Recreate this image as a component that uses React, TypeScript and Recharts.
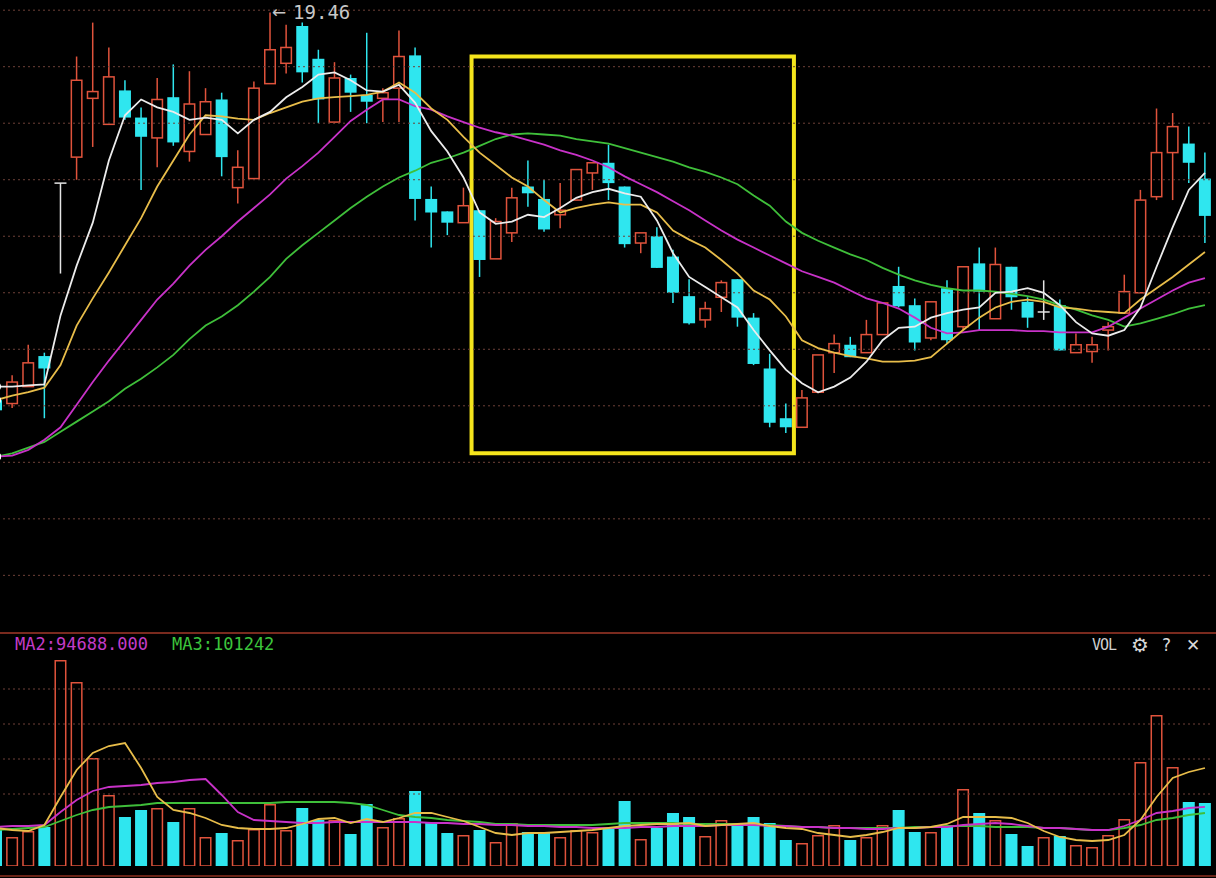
import React from 'react';
import { ComposedChart, Bar, Line, XAxis, YAxis, ReferenceLine, ReferenceArea, ReferenceDot } from 'recharts';

// ---------- price data (candles) ----------
const opens = [16.03, 16.00, 16.15, 16.42, 17.95, 18.18, 18.70, 18.47, 18.77, 18.53,
  18.35, 18.71, 18.23, 18.38, 18.69, 17.91, 17.99, 18.83, 19.01, 19.34,
  19.05, 18.49, 18.88, 18.73, 18.70, 18.79, 19.08, 17.81, 17.70, 17.60,
  17.71, 17.28, 17.51, 17.92, 17.81, 17.67, 17.80, 18.04, 18.13, 17.92,
  17.42, 17.48, 17.30, 16.95, 16.74, 16.94, 17.10, 16.76, 16.31, 15.87,
  15.79, 16.10, 16.45, 16.52, 16.45, 16.61, 17.04, 16.87, 16.58, 17.02,
  16.68, 17.24, 16.75, 17.21, 16.90, 16.81, 16.87, 16.45, 16.46, 16.65,
  16.80, 16.98, 17.83, 18.22, 18.30, 17.99];
const closes = [15.94, 16.19, 16.36, 16.31, 17.95, 18.86, 18.76, 18.89, 18.53, 18.36,
  18.69, 18.31, 18.65, 18.67, 18.18, 18.09, 18.79, 19.13, 19.15, 18.93,
  18.69, 18.88, 18.75, 18.67, 18.75, 19.07, 17.81, 17.69, 17.60, 17.75,
  17.27, 17.61, 17.82, 17.86, 17.54, 17.71, 18.07, 18.13, 17.95, 17.41,
  17.51, 17.20, 16.98, 16.71, 16.84, 17.07, 16.76, 16.35, 15.83, 15.79,
  16.05, 16.43, 16.53, 16.41, 16.61, 16.89, 16.86, 16.54, 16.90, 16.56,
  17.21, 16.99, 17.23, 16.94, 16.76, 16.81, 16.47, 16.52, 16.52, 16.68,
  16.99, 17.80, 18.22, 18.45, 18.13, 17.66];
const highs = [16.07, 16.25, 16.52, 16.45, 17.95, 19.07, 19.37, 19.15, 18.86, 18.62,
  18.88, 19.00, 18.94, 18.79, 18.75, 18.24, 18.85, 19.46, 19.35, 19.37,
  19.13, 19.02, 18.91, 19.28, 18.79, 19.30, 19.15, 17.92, 17.70, 17.91,
  17.71, 17.64, 17.91, 18.15, 17.98, 17.95, 18.07, 18.13, 18.29, 17.92,
  17.51, 17.56, 17.36, 17.10, 16.90, 17.09, 17.10, 16.80, 16.44, 16.00,
  16.12, 16.43, 16.61, 16.59, 16.74, 16.89, 17.21, 16.93, 16.90, 17.09,
  17.21, 17.38, 17.38, 17.21, 16.94, 17.09, 16.92, 16.62, 16.59, 16.72,
  17.14, 17.89, 18.61, 18.57, 18.45, 18.22];
const lows = [15.91, 15.96, 16.15, 15.87, 17.15, 17.98, 18.27, 18.47, 18.51, 17.89,
  18.09, 18.28, 18.14, 18.38, 18.01, 17.77, 17.99, 18.83, 18.92, 18.84,
  18.48, 18.48, 18.58, 18.48, 18.49, 18.49, 17.62, 17.38, 17.49, 17.60,
  17.12, 17.28, 17.43, 17.74, 17.52, 17.55, 17.80, 17.89, 17.80, 17.38,
  17.33, 17.20, 16.89, 16.70, 16.67, 16.81, 16.68, 16.34, 15.79, 15.74,
  15.79, 16.09, 16.27, 16.41, 16.45, 16.61, 16.85, 16.47, 16.56, 16.53,
  16.65, 16.65, 16.75, 16.83, 16.67, 16.74, 16.47, 16.45, 16.36, 16.47,
  16.80, 16.98, 17.80, 17.80, 17.95, 17.42];

// ---------- price moving averages ----------
const ma5 = [16.15, 16.15, 16.16, 16.17, 16.78, 17.22, 17.60, 18.15, 18.55, 18.69,
  18.62, 18.58, 18.51, 18.53, 18.51, 18.39, 18.51, 18.58, 18.71, 18.80,
  18.91, 18.93, 18.86, 18.77, 18.76, 18.82, 18.66, 18.41, 18.23, 18.00,
  17.69, 17.59, 17.61, 17.67, 17.65, 17.73, 17.82, 17.87, 17.90, 17.86,
  17.83, 17.62, 17.33, 17.12, 17.03, 16.94, 16.85, 16.65, 16.47, 16.30,
  16.18, 16.10, 16.15, 16.23, 16.37, 16.56, 16.67, 16.68, 16.76, 16.80,
  16.83, 16.85, 16.98, 16.99, 17.02, 16.98, 16.87, 16.72, 16.62, 16.60,
  16.65, 16.85, 17.21, 17.56, 17.89, 18.04];
const ma10 = [16.03, 16.07, 16.10, 16.14, 16.34, 16.69, 16.93, 17.16, 17.40, 17.64,
  17.92, 18.15, 18.38, 18.55, 18.54, 18.52, 18.51, 18.57, 18.62, 18.67,
  18.70, 18.71, 18.72, 18.73, 18.76, 18.84, 18.75, 18.61, 18.51, 18.36,
  18.22, 18.11, 18.00, 17.92, 17.80, 17.69, 17.73, 17.76, 17.78, 17.76,
  17.76, 17.69, 17.53, 17.45, 17.38, 17.27, 17.15, 17.00, 16.92, 16.77,
  16.56, 16.49, 16.45, 16.42, 16.40, 16.37, 16.37, 16.38, 16.41, 16.53,
  16.65, 16.76, 16.85, 16.90, 16.92, 16.90, 16.85, 16.84, 16.82, 16.81,
  16.80, 16.92, 17.02, 17.12, 17.23, 17.34];
const ma20 = [15.53, 15.54, 15.59, 15.68, 15.79, 15.99, 16.19, 16.38, 16.56, 16.74,
  16.92, 17.06, 17.22, 17.36, 17.48, 17.61, 17.73, 17.85, 17.99, 18.10,
  18.22, 18.36, 18.50, 18.60, 18.69, 18.69, 18.63, 18.60, 18.54, 18.49,
  18.44, 18.40, 18.37, 18.33, 18.29, 18.24, 18.20, 18.15, 18.09, 18.01,
  17.94, 17.87, 17.79, 17.71, 17.62, 17.53, 17.45, 17.38, 17.31, 17.24,
  17.17, 17.12, 17.07, 17.00, 16.93, 16.89, 16.84, 16.76, 16.67, 16.62,
  16.63, 16.65, 16.65, 16.65, 16.64, 16.64, 16.63, 16.63, 16.63, 16.68,
  16.76, 16.84, 16.92, 17.00, 17.07, 17.11];
const ma30 = [15.53, 15.56, 15.61, 15.66, 15.75, 15.84, 15.93, 16.02, 16.13, 16.22,
  16.32, 16.43, 16.57, 16.69, 16.77, 16.87, 16.99, 17.12, 17.28, 17.40,
  17.51, 17.62, 17.73, 17.83, 17.92, 18.00, 18.06, 18.13, 18.17, 18.22,
  18.28, 18.34, 18.38, 18.39, 18.38, 18.37, 18.34, 18.32, 18.30, 18.26,
  18.22, 18.18, 18.14, 18.09, 18.05, 18.00, 17.94, 17.84, 17.75, 17.61,
  17.51, 17.44, 17.38, 17.32, 17.27, 17.20, 17.14, 17.09, 17.05, 17.02,
  17.00, 17.00, 16.99, 16.97, 16.95, 16.92, 16.87, 16.83, 16.78, 16.74,
  16.68, 16.71, 16.75, 16.79, 16.84, 16.87];

// ---------- volume ----------
const volumes = [60800, 46400, 56000, 62400, 329600, 294400, 172800, 113600, 78400, 89600,
  92800, 70400, 92800, 46400, 52800, 41600, 59200, 99200, 57600, 92800,
  73600, 73600, 51200, 99200, 62400, 76800, 120000, 70400, 52800, 49600,
  57600, 38400, 68800, 54400, 52800, 46400, 57600, 54400, 59200, 104000,
  43200, 60800, 84800, 78400, 48000, 73600, 67200, 78400, 68800, 41600,
  36800, 49600, 65600, 41600, 46400, 65600, 89600, 54400, 54400, 62400,
  123200, 84800, 73600, 51200, 32000, 46400, 48000, 33600, 30400, 49600,
  75200, 166400, 241600, 158400, 102400, 100800];
const volMa1 = [60800, 57600, 56000, 65600, 110400, 153600, 180800, 192000, 196800, 156800,
  110400, 89600, 84800, 76800, 65600, 60800, 59200, 59200, 60800, 67200,
  75200, 76800, 68800, 75200, 70400, 76800, 84800, 84800, 78400, 72000,
  62400, 52800, 49600, 52800, 52800, 54400, 56000, 57600, 60800, 64000,
  65600, 67200, 67200, 68800, 64000, 65600, 67200, 68800, 64000, 60800,
  59200, 52800, 49600, 46400, 49600, 54400, 60800, 60800, 62400, 67200,
  78400, 78400, 78400, 76800, 68800, 56000, 46400, 41600, 40000, 41600,
  49600, 73600, 110400, 140800, 150400, 156800];
const volMa2 = [62400, 64000, 64000, 65600, 86400, 105600, 120000, 126400, 128000, 129600,
  132800, 134400, 137600, 139200, 113600, 86400, 73600, 72000, 70400, 68800,
  68800, 70400, 70400, 70400, 70400, 70400, 70400, 68800, 68800, 67200,
  67200, 65600, 65600, 64000, 64000, 62400, 62400, 60800, 60800, 60800,
  62400, 62400, 64000, 64000, 64000, 65600, 65600, 65600, 64000, 64000,
  62400, 62400, 60800, 60800, 59200, 59200, 60800, 60800, 62400, 62400,
  65600, 67200, 68800, 67200, 64000, 60800, 60800, 59200, 57600, 57600,
  64000, 73600, 84800, 88000, 92800, 94688];
const volMa3 = [57600, 59200, 60800, 62400, 72000, 81600, 89600, 94400, 96000, 97600,
  100800, 100800, 100800, 100800, 100800, 100800, 100800, 100800, 102400, 102400,
  102400, 102400, 100800, 97600, 89600, 81600, 78400, 76800, 73600, 72000,
  70400, 67200, 67200, 65600, 65600, 65600, 65600, 65600, 67200, 68800,
  68800, 68800, 68800, 67200, 67200, 67200, 67200, 65600, 65600, 64000,
  62400, 62400, 60800, 60800, 60800, 60800, 60800, 62400, 62400, 64000,
  64000, 64000, 62400, 62400, 62400, 60800, 60800, 59200, 57600, 57600,
  60800, 65600, 73600, 76800, 81600, 84800];

// ---------- axis / grid values ----------
const priceDomain = [13.97, 19.57];
const priceGrid = [19.48, 18.98, 18.48, 17.98, 17.48, 16.98, 16.48, 15.98, 15.48, 14.98, 14.48];
const volDomain = [0, 368000];
const volGrid = [115200, 171200, 227200, 283200];
const boxStart = 30;
const boxEnd = 49;
const boxLow = 15.56;
const boxHigh = 19.07;
const legendMA2 = 'MA2:94688.000';
const legendMA3 = 'MA3:101242';

const RED = '#e0533c';
const CYAN = '#2fe6ef';
const WHITE = '#e4e4e4';
const GRID = '#6e4038';
const LW = 1.8;

const data = opens.map((o, i) => ({
  i,
  o,
  c: closes[i],
  h: highs[i],
  l: lows[i],
  range: [lows[i], highs[i]],
  ma5: ma5[i],
  ma10: ma10[i],
  ma20: ma20[i],
  ma30: ma30[i],
  vol: volumes[i],
  vma1: volMa1[i],
  vma2: volMa2[i],
  vma3: volMa3[i],
}));

let peakIndex = 0;
highs.forEach((h, i) => { if (h > highs[peakIndex]) peakIndex = i; });

function CandleShape(props: any) {
  const { x, y, width, height, payload } = props;
  if (x == null || y == null || !payload) return null;
  const top = Math.min(y, y + height);
  const bottom = Math.max(y, y + height);
  const { o, c, h, l } = payload;
  const span = h - l || 1;
  const toY = (v: number) => top + ((h - v) / span) * (bottom - top);
  const cx = x + width / 2;
  const yo = toY(o);
  const yc = toY(c);
  const bt = Math.min(yo, yc);
  const bb = Math.max(yo, yc);
  if (c > o) {
    return (
      <g>
        <line x1={cx} x2={cx} y1={top} y2={bt} stroke={RED} strokeWidth={1.5} />
        <line x1={cx} x2={cx} y1={bb} y2={bottom} stroke={RED} strokeWidth={1.5} />
        <rect x={x + 0.75} y={bt} width={width - 1.5} height={Math.max(bb - bt, 1)} fill="#000" stroke={RED} strokeWidth={1.5} />
      </g>
    );
  }
  if (c < o) {
    return (
      <g>
        <line x1={cx} x2={cx} y1={top} y2={bottom} stroke={CYAN} strokeWidth={1.5} />
        <rect x={x} y={bt} width={width} height={Math.max(bb - bt, 2)} fill={CYAN} />
      </g>
    );
  }
  return (
    <g>
      <line x1={cx} x2={cx} y1={top} y2={bottom} stroke={WHITE} strokeWidth={1.5} />
      <line x1={x} x2={x + width} y1={yo} y2={yo} stroke={WHITE} strokeWidth={1.5} />
    </g>
  );
}

function VolShape(props: any) {
  const { x, y, width, height, payload } = props;
  if (x == null || y == null || !payload) return null;
  const top = Math.min(y, y + height);
  const hh = Math.abs(height);
  if (payload.c >= payload.o) {
    return <rect x={x + 0.75} y={top + 0.75} width={width - 1.5} height={Math.max(hh - 0.75, 1)} fill="#000" stroke={RED} strokeWidth={1.5} />;
  }
  return <rect x={x} y={top} width={width} height={hh} fill={CYAN} />;
}

function PeakLabel(props: any) {
  const vb = props.viewBox || {};
  const cx = (vb.x ?? 0) + (vb.width ?? 0) / 2;
  const cy = (vb.y ?? 0) + (vb.height ?? 0) / 2;
  return (
    <g>
      <text x={cx + 2} y={cy + 6} fill="#c8c8c8" fontSize={17} fontFamily="DejaVu Sans">←</text>
      <text x={cx + 23} y={cy + 7} fill="#c8c8c8" fontSize={19} fontFamily="DejaVu Sans Mono">{highs[peakIndex].toFixed(2)}</text>
    </g>
  );
}

const W = 1216;
const chartMargin = { top: 0, right: 3, bottom: 0, left: -12 };

export default function App() {
  return (
    <div style={{ position: 'fixed', left: 0, top: 0, width: W, height: 878, background: '#000', overflow: 'hidden' }}>
      <div style={{ position: 'absolute', left: 0, top: 0 }}>
        <ComposedChart width={W} height={633} data={data} margin={chartMargin}>
          <XAxis dataKey="i" type="category" hide />
          <YAxis type="number" domain={priceDomain} hide allowDataOverflow />
          {priceGrid.map((v) => (
            <ReferenceLine key={v} y={v} stroke={GRID} strokeDasharray="2 3" strokeWidth={1} />
          ))}
          <Bar dataKey="range" barSize={12} shape={<CandleShape />} isAnimationActive={false} />
          <Line type="linear" dataKey="ma30" stroke="#3fbf3a" strokeWidth={LW} dot={false} isAnimationActive={false} />
          <Line type="linear" dataKey="ma20" stroke="#c832c8" strokeWidth={LW} dot={false} isAnimationActive={false} />
          <Line type="linear" dataKey="ma10" stroke="#e8bd4a" strokeWidth={LW} dot={false} isAnimationActive={false} />
          <Line type="linear" dataKey="ma5" stroke="#ececec" strokeWidth={LW} dot={false} isAnimationActive={false} />
          <ReferenceArea x1={boxStart} x2={boxEnd} y1={boxLow} y2={boxHigh} fill="none" fillOpacity={0} stroke="#f4e41c" strokeWidth={4} ifOverflow="visible" />
          <ReferenceDot x={peakIndex} y={highs[peakIndex]} r={1} fill="none" stroke="none" ifOverflow="visible" label={PeakLabel} />
        </ComposedChart>
      </div>
      <div style={{ position: 'absolute', left: 0, top: 632, width: W, height: 2, background: '#7a2a1e' }} />
      <div style={{ position: 'absolute', left: 0, top: 636 }}>
        <ComposedChart width={W} height={230} data={data} margin={chartMargin}>
          <XAxis dataKey="i" type="category" hide />
          <YAxis type="number" domain={volDomain} hide allowDataOverflow />
          {volGrid.map((v) => (
            <ReferenceLine key={v} y={v} stroke={GRID} strokeDasharray="2 3" strokeWidth={1} />
          ))}
          <Bar dataKey="vol" barSize={12} shape={<VolShape />} isAnimationActive={false} />
          <Line type="linear" dataKey="vma3" stroke="#3fbf3a" strokeWidth={LW} dot={false} isAnimationActive={false} />
          <Line type="linear" dataKey="vma2" stroke="#c832c8" strokeWidth={LW} dot={false} isAnimationActive={false} />
          <Line type="linear" dataKey="vma1" stroke="#e8bd4a" strokeWidth={LW} dot={false} isAnimationActive={false} />
        </ComposedChart>
      </div>
      <div style={{ position: 'absolute', left: 0, top: 875, width: W, height: 2, background: '#6a2418' }} />
      <svg width={W} height={878} style={{ position: 'absolute', left: 0, top: 0, pointerEvents: 'none' }}>
        <text x={15} y={650} fill="#c43cc8" fontSize={17} fontFamily="DejaVu Sans Mono">{legendMA2}</text>
        <text x={172} y={650} fill="#3cc43c" fontSize={17} fontFamily="DejaVu Sans Mono">{legendMA3}</text>
        <text x={1092} y={650} fill="#cfcfcf" fontSize={15} fontFamily="DejaVu Sans Mono" letterSpacing={-1}>VOL</text>
        <text x={1131} y={652} fill="#d8d8d8" fontSize={20} fontFamily="DejaVu Sans">⚙</text>
        <text x={1162} y={651} fill="#d8d8d8" fontSize={17} fontFamily="DejaVu Sans">?</text>
        <text x={1186} y={651} fill="#d8d8d8" fontSize={17} fontFamily="DejaVu Sans">✕</text>
      </svg>
    </div>
  );
}
